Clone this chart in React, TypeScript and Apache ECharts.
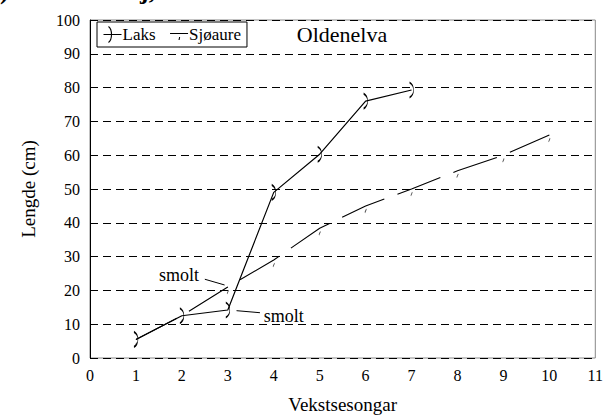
import React, { useEffect, useRef } from "react";
import * as echarts from "echarts";

const seasons = [1, 2, 3, 4, 5, 6, 7, 8, 9, 10];
const laksValues = [5.5, 12.5, 14.2, 49, 60.3, 76, 79.3];
const sjoaureValues = [5.5, 12.5, 21, 29, 38.4, 45, 50, 55.4, 60, 66];
const xTicks = [0, 11, 1];
const yTicks = [0, 100, 10];
const smoltNotes = [
  { text: "smolt", labelX: 1.94, labelY: 24.6, align: "center", from: [2.5, 23.3], to: [2.93, 21.6] },
  { text: "smolt", labelX: 3.78, labelY: 12.4, align: "left", from: [3.19, 14.0], to: [3.7, 13.4] },
];

const FONT = "Liberation Serif";
const PAREN = "path://M0,0 C4,4 4,16 0,20";
const TICK = "path://M1,0 L0,3";
const LAKS_ICON = "path://M0,8 L18,8 M5,0 C9,3 9,13 5,16";
const SJO_ICON = "path://M0,0 M0,7 L18,7 M9.6,10.5 L9,13.5 M18,16";

export default function App() {
  const ref = useRef<HTMLDivElement>(null);
  useEffect(() => {
    if (!ref.current) return;
    const chart = echarts.init(ref.current, null, { renderer: "svg" });
    chart.setOption({
      animation: false,
      backgroundColor: "#fff",
      textStyle: { fontFamily: FONT },
      grid: {
        left: 90,
        right: 6.5,
        top: 20,
        bottom: 58,
        show: true,
        borderColor: "#888",
        borderWidth: 1,
      },
      legend: {
        left: 97,
        top: 22,
        padding: [2, 6, 2, 4],
        itemGap: 12,
        itemWidth: 18,
        itemHeight: 16,
        borderColor: "#000",
        borderWidth: 1,
        textStyle: { fontFamily: FONT, fontSize: 17, color: "#000", padding: [0, 0, 0, -4] },
        data: [
          { name: "Laks", icon: LAKS_ICON, itemStyle: { color: "none", borderColor: "#000", borderWidth: 1.1 } },
          { name: "Sjøaure", icon: SJO_ICON, itemStyle: { color: "none", borderColor: "#000", borderWidth: 1.1 } },
        ],
      },
      xAxis: {
        type: "value",
        min: xTicks[0],
        max: xTicks[1],
        interval: xTicks[2],
        name: "Vekstsesongar",
        nameLocation: "middle",
        nameGap: 37,
        nameTextStyle: { fontFamily: FONT, fontSize: 19, color: "#000" },
        axisLine: { show: false },
        axisTick: { show: false },
        splitLine: { show: false },
        axisLabel: { fontFamily: FONT, fontSize: 16, color: "#000", margin: 9 },
      },
      yAxis: {
        type: "value",
        min: yTicks[0],
        max: yTicks[1],
        interval: yTicks[2],
        name: "Lengde (cm)",
        nameLocation: "middle",
        nameGap: 52,
        nameRotate: 90,
        nameTextStyle: { fontFamily: FONT, fontSize: 19, color: "#000" },
        axisLine: { show: true, lineStyle: { color: "#000", width: 1 } },
        axisTick: { show: false },
        splitLine: { show: true, lineStyle: { color: "#000", type: [8, 5], width: 1 } },
        axisLabel: { fontFamily: FONT, fontSize: 16, color: "#000", margin: 10 },
      },
      series: [
        {
          name: "Sjøaure",
          type: "line",
          data: sjoaureValues.map((v, i) => [seasons[i], v]),
          symbol: TICK,
          symbolSize: [1.5, 3.5],
          symbolOffset: [0, 5],
          showSymbol: true,
          itemStyle: { color: "#000", borderColor: "#444", borderWidth: 1 },
          lineStyle: { color: "#000", width: 1.1, type: [46, 14] },
          z: 3,
        },
        {
          name: "Laks",
          type: "line",
          data: laksValues.map((v, i) => [seasons[i], v]),
          symbol: PAREN,
          symbolSize: [4, 15],
          showSymbol: true,
          itemStyle: { color: "none", borderColor: "#000", borderWidth: 1.1 },
          lineStyle: { color: "#000", width: 1.2 },
          z: 4,
        },
      ],
    });

    const px = (p: number[]) => chart.convertToPixel({ gridIndex: 0 }, p) as number[];
    const graphics: any[] = [
      {
        type: "text",
        style: { text: "Oldenelva", x: 342, y: 34, align: "center", verticalAlign: "middle", fontFamily: FONT, fontSize: 22, fill: "#000" },
      },
      {
        type: "text",
        style: { text: ")", x: 0, y: 3, align: "left", verticalAlign: "bottom", fontFamily: FONT, fontSize: 26, fontWeight: "bold", fill: "#000" },
      },
      {
        type: "text",
        style: { text: "j,", x: 140, y: 3, align: "left", verticalAlign: "bottom", fontFamily: FONT, fontSize: 26, fontWeight: "bold", fill: "#000" },
      },
    ];
    smoltNotes.forEach((n) => {
      const a = px(n.from);
      const b = px(n.to);
      const l = px([n.labelX, n.labelY]);
      graphics.push({
        type: "line",
        shape: { x1: a[0], y1: a[1], x2: b[0], y2: b[1] },
        style: { stroke: "#000", lineWidth: 1 },
      });
      graphics.push({
        type: "text",
        style: { text: n.text, x: l[0], y: l[1], align: n.align, verticalAlign: "middle", fontFamily: FONT, fontSize: 18, fill: "#000" },
      });
    });
    chart.setOption({ graphic: graphics });

    return () => chart.dispose();
  }, []);
  return <div ref={ref} style={{ width: 606, height: 419, position: "absolute", left: 0, top: 0 }} />;
}
